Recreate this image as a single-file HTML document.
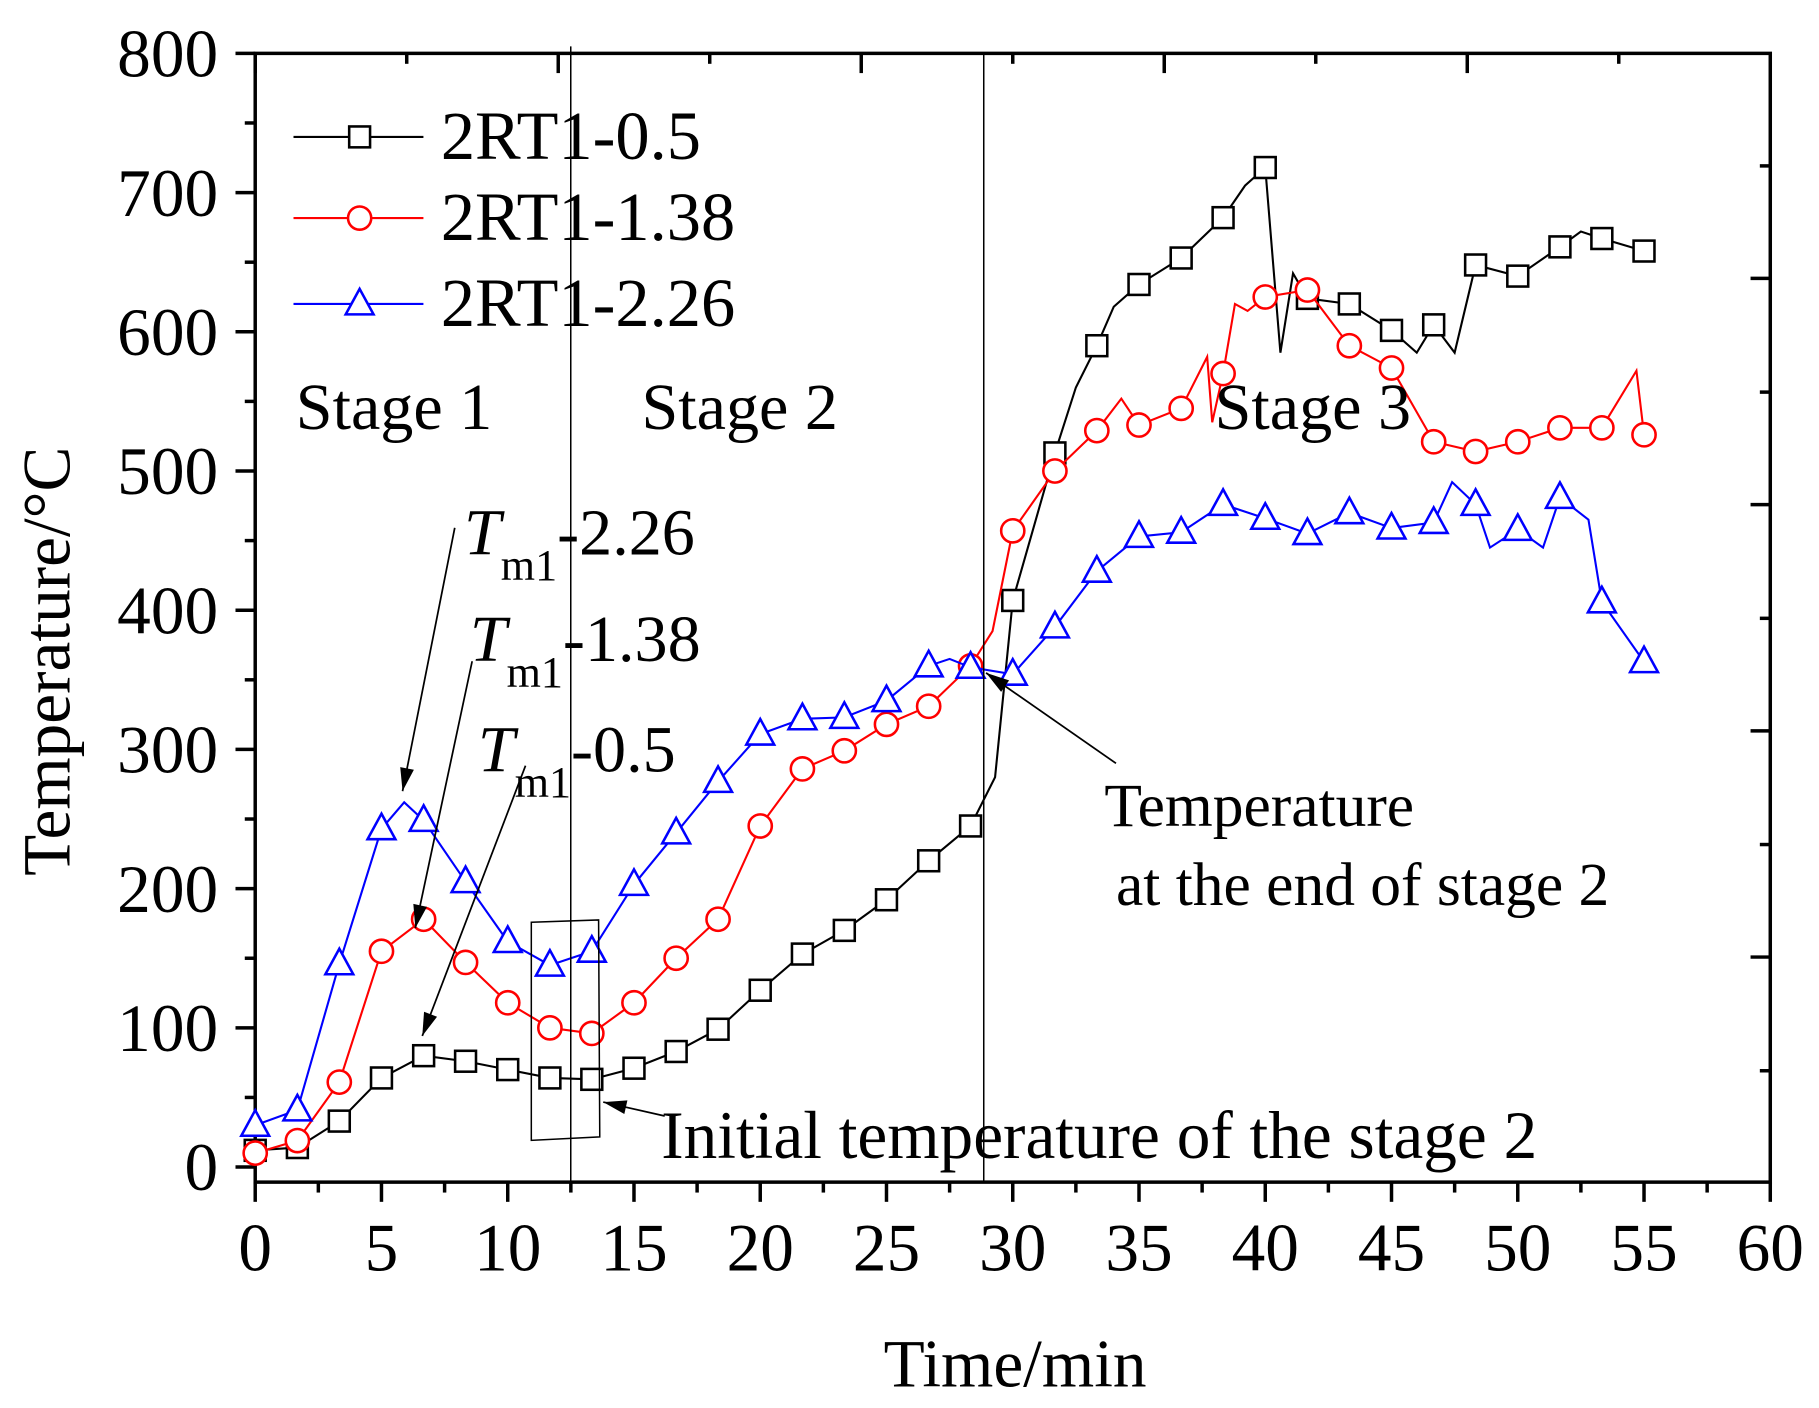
<!DOCTYPE html>
<html><head><meta charset="utf-8"><style>
html,body{margin:0;padding:0;background:#fff}
svg{display:block}
text{font-family:"Liberation Serif",serif;fill:#000}
</style></head><body>
<svg id="chart" width="1819" height="1408" viewBox="0 0 1568 1213.7" xmlns="http://www.w3.org/2000/svg">
<g id="axes"></g>
<g id="series"></g>
<g id="annot">
  <line x1="492" y1="40" x2="492" y2="1018" stroke="#000" stroke-width="1.3"/>
  <line x1="848" y1="46" x2="848" y2="1020" stroke="#000" stroke-width="1.3"/>
  <polygon points="458,795 516,793 517,980 458,983" fill="none" stroke="#000" stroke-width="1.3"/>
  <text x="255" y="370" font-size="57">Stage 1</text>
  <text x="553" y="370" font-size="57">Stage 2</text>
  <text x="1047" y="370" font-size="57">Stage 3</text>
  <text x="400" y="478" font-size="57"><tspan font-style="italic">T</tspan><tspan font-size="38" dy="22">m1</tspan><tspan dy="-22">-2.26</tspan></text>
  <text x="405" y="570" font-size="57"><tspan font-style="italic">T</tspan><tspan font-size="38" dy="22">m1</tspan><tspan dy="-22">-1.38</tspan></text>
  <text x="412" y="665" font-size="57"><tspan font-style="italic">T</tspan><tspan font-size="38" dy="22">m1</tspan><tspan dy="-22">-0.5</tspan></text>
  <text x="952" y="712" font-size="53">Temperature</text>
  <text x="962" y="780" font-size="53">at the end of stage 2</text>
  <text x="570" y="998" font-size="58">Initial temperature of the stage 2</text>
</g>
<g id="legend"></g>
<script>
const NS="http://www.w3.org/2000/svg";
const xTicks=[0,5,10,15,20,25,30,35,40,45,50,55,60];
const yTicks=[0,100,200,300,400,500,600,700,800];
const markerTimes=[0,1.67,3.33,5,6.67,8.33,10,11.67,13.33,15,16.67,18.33,20,21.67,23.33,25,26.67,28.33,30,31.67,33.33,35,36.67,38.33,40,41.67,43.33,45,46.67,48.33,50,51.67,53.33,55];
const black=[12,14,33,64,80,76,70,64,63,71,83,99,127,153,170,192,220,245,407,513,590,634,653,682,718,624,620,601,605,648,640,661,667,658];
const red=[10,19,61,155,178,147,118,100,96,118,150,178,245,286,299,318,331,360,457,500,529,533,545,570,625,630,590,574,521,514,521,531,531,526];
const blue=[30,41,146,243,249,205,162,145,155,203,240,277,311,322,323,335,360,359,354,388,428,453,456,476,466,455,470,459,463,476,458,481,406,363];
const blackExtraT=[29.3,32.5,34,39.2,40.6,41.1,46,47.5,52.5];
const blackExtraV=[280,560,618,705,585,642,585,585,672];
const redExtraT=[29.2,34.3,37.7,37.9,38.8,39.3,54.7];
const redExtraV=[385,552,582,535,620,615,572];
const blueExtraT=[5.9,27.5,47.4,48.9,51,52.8];
const blueExtraV=[262,365,492,445,445,465];

const X0=220,X1=1526,Y0=1006,Y1=46,FB=1019,FT=46;
const xs=t=>X0+(X1-X0)*t/60;
const ys=v=>Y0+(Y1-Y0)*v/800;
function mk(tag,attrs,parent){const e=document.createElementNS(NS,tag);for(const k in attrs)e.setAttribute(k,attrs[k]);parent.appendChild(e);return e;}
const ax=document.getElementById('axes');
const fr=mk('rect',{x:X0,y:FT,width:X1-X0,height:FB-FT,fill:'none',stroke:'#000','stroke-width':3},ax);


xTicks.forEach(t=>{
  const l=mk('line',{x1:xs(t),x2:xs(t),y1:FB,y2:FB+17,stroke:'#000','stroke-width':3},ax);
  
  
  if(t<60){const m=mk('line',{x1:xs(t+2.5),x2:xs(t+2.5),y1:FB,y2:FB+9,stroke:'#000','stroke-width':3},ax);
  
  }
  const tx=mk('text',{x:xs(t),y:1095,'font-size':58,'text-anchor':'middle'},ax);tx.textContent=t;
  
  
});
yTicks.forEach(v=>{
  const l=mk('line',{x1:X0-17,x2:X0,y1:ys(v),y2:ys(v),stroke:'#000','stroke-width':3},ax);
  
  
  if(v<800){const m=mk('line',{x1:X0-9,x2:X0,y1:ys(v+50),y2:ys(v+50),stroke:'#000','stroke-width':3},ax);
  
  }
  const tx=mk('text',{x:188,y:ys(v)+20,'font-size':58,'text-anchor':'end'},ax);tx.textContent=v;
  
  
});
[0,6,12,18,24,30,36,42,48,54].forEach((t,i)=>{
  const l=mk('line',{x1:xs(t),x2:xs(t),y1:FT,y2:FT+(i%2?9:17),stroke:'#000','stroke-width':3},ax);
  
  
});
[143,240,338,435,533,630,728,825,923].forEach((y,i)=>{
  const l=mk('line',{x1:X1-(i%2?17:9),x2:X1,y1:y,y2:y,stroke:'#000','stroke-width':3},ax);
  
  
});
const yt=mk('text',{x:0,y:0,'font-size':58,'text-anchor':'middle',transform:'translate(60,570) rotate(-90)'},ax);
yt.textContent='Temperature/°C';


const xt=mk('text',{x:875,y:1195,'font-size':58,'text-anchor':'middle'},ax);
xt.textContent='Time/min';



const sg=document.getElementById('series');
function marker(type,cx,cy,color,parent){
  let e;
  if(type==='sq')e=mk('rect',{x:cx-9,y:cy-9,width:18,height:18,fill:'#fff',stroke:color,'stroke-width':2.2},parent);
  else if(type==='ci')e=mk('circle',{cx:cx,cy:cy,r:10,fill:'#fff',stroke:color,'stroke-width':2.2},parent);
  else e=mk('polygon',{points:`${cx},${cy-13} ${cx-12},${cy+9} ${cx+12},${cy+9}`,fill:'#fff',stroke:color,'stroke-width':2.2},parent);
  return e;
}
function series(name,vals,eT,eV,color,type){
  const g=mk('g',{},sg);
  
  
  let pts=markerTimes.map((t,i)=>[t,vals[i]]);
  eT.forEach((t,i)=>pts.push([t,eV[i]]));
  pts.sort((a,b)=>a[0]-b[0]);
  const p=mk('polyline',{points:pts.map(p=>xs(p[0])+','+ys(p[1])).join(' '),fill:'none',stroke:color,'stroke-width':1.8},g);
  
  
  markerTimes.forEach((t,i)=>{
    const m=marker(type,xs(t),ys(vals[i]),color,g);
    
    
  });
}
series('series-2rt1-0.5',black,blackExtraT,blackExtraV,'#000','sq');
series('series-2rt1-1.38',red,redExtraT,redExtraV,'#ff0000','ci');
series('series-2rt1-2.26',blue,blueExtraT,blueExtraV,'#0000ff','tr');

const an=document.getElementById('annot');
function arrow(x1,y1,x2,y2){
  const g=mk('g',{},an);
  
  
  mk('line',{x1,y1,x2,y2,stroke:'#000','stroke-width':1.5},g);
  const a=Math.atan2(y2-y1,x2-x1),L=20,W=6;
  const bx=x2-L*Math.cos(a),by=y2-L*Math.sin(a);
  mk('polygon',{points:`${x2},${y2} ${bx+W*Math.sin(a)},${by-W*Math.cos(a)} ${bx-W*Math.sin(a)},${by+W*Math.cos(a)}`,fill:'#000'},g);
}
arrow(392,455,347,682);
arrow(407,570,358,800);
arrow(453,660,364,893);
arrow(962,658,850,580);
arrow(573,962,520,950);

const lg=document.getElementById('legend');
[['2RT1-0.5','#000','sq',118],['2RT1-1.38','#ff0000','ci',188],['2RT1-2.26','#0000ff','tr',262]].forEach(d=>{
  const g=mk('g',{},lg);
  
  
  mk('line',{x1:253,x2:365,y1:d[3],y2:d[3],stroke:d[1],'stroke-width':1.8},g);
  marker(d[2],310,d[3],d[1],g);
  const t=mk('text',{x:380,y:d[3]+19,'font-size':59},g);t.textContent=d[0];
});
</script>
</svg>
</body></html>
